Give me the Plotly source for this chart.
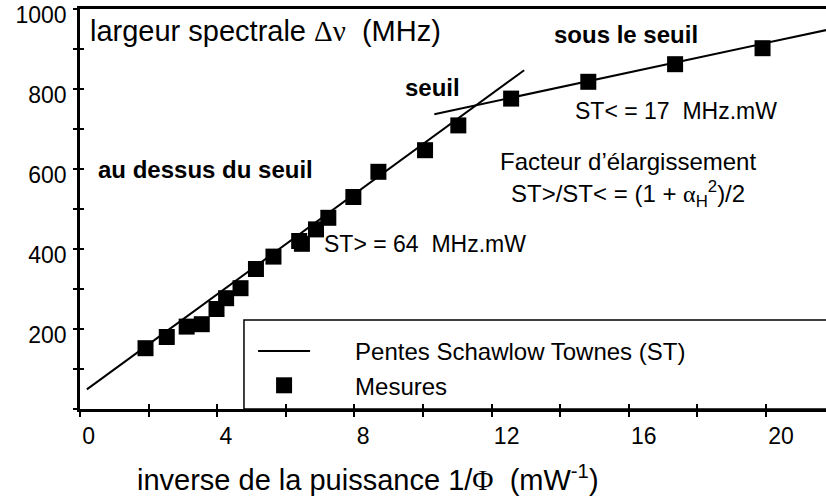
import plotly.graph_objects as go

# ---- data ----
meas_x = [1.91, 2.53, 3.11, 3.55, 3.98, 4.26, 4.68, 5.13, 5.64, 6.39, 6.47, 6.88, 7.24,
          7.97, 8.70, 10.06, 11.03, 12.57, 14.82, 17.35, 19.90]
meas_y = [152, 180, 206, 212, 250, 277, 302, 350, 381, 420, 413, 449, 478,
          530, 593, 647, 709, 776, 818, 862, 902]

fit_above_x = [0.2, 12.95]
fit_above_y = [49, 847]
fit_below_x = [10.33, 21.9]
fit_below_y = [737, 950]

x_labels = [0, 4, 8, 12, 16, 20]
x_all_ticks = [0, 2, 4, 6, 8, 10, 12, 14, 16, 18, 20]
y_labels = [200, 400, 600, 800, 1000]
y_all_ticks = [0, 100, 200, 300, 400, 500, 600, 700, 800, 900, 1000]

FONT = "Liberation Sans, Arial, sans-serif"
GREEK = "<span style='font-family:Liberation Serif'>{}</span>"
NB = "\u00a0"

fig = go.Figure()
fig.add_trace(go.Scatter(
    x=fit_above_x, y=fit_above_y, mode="lines",
    line=dict(color="black", width=2),
    name=NB * 6 + "Pentes Schawlow Townes (ST)", legendgroup="st"))
fig.add_trace(go.Scatter(
    x=fit_below_x, y=fit_below_y, mode="lines",
    line=dict(color="black", width=2),
    name="ST", legendgroup="st", showlegend=False))
fig.add_trace(go.Scatter(
    x=meas_x, y=meas_y, mode="markers",
    marker=dict(symbol="square", size=16, color="black"),
    name=NB * 6 + "Mesures"))
# invisible helper trace for the inner-tick overlay axes
fig.add_trace(go.Scatter(x=[None], y=[None], xaxis="x2", yaxis="y2",
                         showlegend=False, hoverinfo="skip"))

XR = [0, 21.75]
YR = [0, 1000]

common = dict(showgrid=False, zeroline=False, color="black", automargin=False)
fig.update_layout(
    width=826, height=497,
    margin=dict(l=80, r=0, t=9, b=88, autoexpand=False),
    plot_bgcolor="white", paper_bgcolor="white",
    hovermode=False,
    font=dict(family=FONT, size=23, color="black"),
    xaxis=dict(range=XR, tickvals=x_labels, ticktext=[str(v) for v in x_labels],
               ticks="outside", ticklen=5, tickwidth=2, tickcolor="black",
               minor=dict(tickvals=x_all_ticks, ticks="outside", ticklen=5,
                          tickwidth=2, tickcolor="black"),
               showline=True, linewidth=2.5, linecolor="black", mirror=True,
               ticklabelposition="outside right", ticklabelstandoff=5,
               ticklabeloverflow="allow",
               tickfont=dict(size=23), **common),
    yaxis=dict(range=YR, tickvals=y_labels, ticktext=[str(v) for v in y_labels],
               ticks="outside", ticklen=4, tickwidth=2, tickcolor="black",
               minor=dict(tickvals=y_all_ticks, ticks="outside", ticklen=4,
                          tickwidth=2, tickcolor="black"),
               showline=True, linewidth=2.5, linecolor="black",
               ticklabelstandoff=2, ticklabelshift=6, ticklabeloverflow="allow",
               tickfont=dict(size=23), **common),
    xaxis2=dict(range=XR, overlaying="x", anchor="y2", side="bottom",
                tickvals=x_all_ticks, ticks="inside", ticklen=5, tickwidth=2,
                tickcolor="black", showticklabels=False, showline=False,
                **common),
    yaxis2=dict(range=YR, overlaying="y", anchor="x2", side="left",
                tickvals=y_all_ticks, ticks="inside", ticklen=4, tickwidth=2,
                tickcolor="black", showticklabels=False, showline=False,
                **common),
    showlegend=True,
    legend=dict(x=0.232, y=0.2, xanchor="left", yanchor="top",
                bgcolor="rgba(0,0,0,0)", borderwidth=0,
                font=dict(size=24), itemwidth=52, tracegroupgap=0),
)

# legend frame
fig.add_shape(type="rect", xref="paper", yref="paper",
              x0=0.2198, x1=1.05, y0=0, y1=0.2225,
              line=dict(color="black", width=1.5), layer="above")

ann = []
ann.append(dict(x=0.23, y=945, xref="x", yref="y", xanchor="left", yanchor="middle",
                text="largeur spectrale " + GREEK.format("Δν") + NB + " (MHz)",
                font=dict(size=29)))
ann.append(dict(x=15.92, y=937, xref="x", yref="y", xanchor="center", yanchor="middle",
                text="<b>sous le seuil</b>", font=dict(size=24)))
ann.append(dict(x=10.29, y=805, xref="x", yref="y", xanchor="center", yanchor="middle",
                text="<b>seuil</b>", font=dict(size=24)))
ann.append(dict(x=3.67, y=600, xref="x", yref="y", xanchor="center", yanchor="middle",
                text="<b>au dessus du seuil</b>", font=dict(size=24)))
ann.append(dict(x=17.38, y=745, xref="x", yref="y", xanchor="center", yanchor="middle",
                text="ST&lt; = 17" + NB + " MHz.mW", font=dict(size=23)))
ann.append(dict(x=15.98, y=620, xref="x", yref="y", xanchor="center", yanchor="middle",
                text="Facteur d’élargissement", font=dict(size=24)))
ann.append(dict(x=15.98, y=537, xref="x", yref="y", xanchor="center", yanchor="middle",
                text="ST&gt;/ST&lt; = (1 + " + GREEK.format("α") + "<sub>H</sub><sup>2</sup>)/2",
                font=dict(size=24)))
ann.append(dict(x=7.06, y=412, xref="x", yref="y", xanchor="left", yanchor="middle",
                text="ST&gt; = 64" + NB + " MHz.mW", font=dict(size=23)))
ann.append(dict(x=0.386, y=-0.1725, xref="paper", yref="paper", xanchor="center",
                yanchor="middle",
                text="inverse de la puissance 1/" + GREEK.format("Φ") + NB + " (mW<sup>-1</sup>)",
                font=dict(size=29)))
for a in ann:
    a["showarrow"] = False
fig.update_layout(annotations=ann)

# remove the default 8px page margin so the figure sits at the window origin
fig.write_html("out.html", config={"displayModeBar": False},
               post_script="document.body.style.margin='0';")
